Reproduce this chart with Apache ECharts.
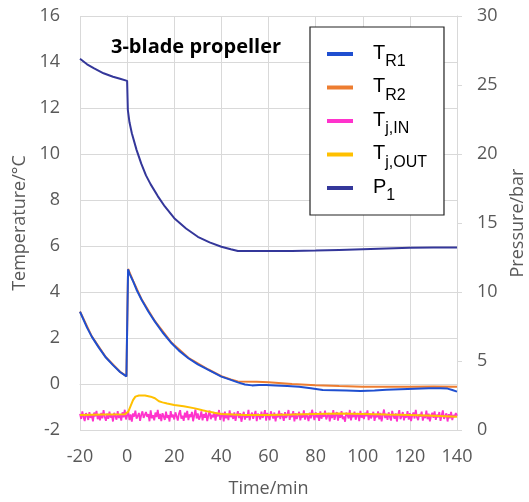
<!DOCTYPE html>
<html><head><meta charset="utf-8">
<script src="https://cdn.jsdelivr.net/npm/echarts@6/dist/echarts.min.js"></script>
<style>html,body{margin:0;padding:0;background:#fff}#c{width:529px;height:502px}</style>
</head><body><div id="c"></div>
<script>
const titleText = '3-blade propeller';
const xTicks = {min: -20, max: 140, interval: 20};
const yLeft = {min: -2, max: 16, interval: 2};
const yRight = {min: 0, max: 30, interval: 5};

const seriesNames = ['TR1', 'TR2', 'TjIN', 'TjOUT', 'P1'];

// TR1 (°C)
const tr1 = [[-20,3.14],[-17,2.45],[-15,2.06],[-12,1.58],[-9,1.15],[-6,0.82],[-3,0.52],[-0.3,0.33],[0.4,4.99],[1,4.8],[2.6,4.45],[4,4.1],[6.2,3.65],[9,3.15],[11.8,2.71],[15,2.25],[18.9,1.77],[22,1.45],[26,1.12],[30,0.85],[34.5,0.61],[40,0.32],[44,0.18],[47,0.07],[50,-0.02],[53,-0.06],[56,-0.04],[59,-0.04],[63,-0.06],[68,-0.09],[73,-0.12],[78,-0.18],[83,-0.26],[88,-0.27],[93,-0.28],[99,-0.3],[105,-0.28],[110,-0.25],[116,-0.23],[122,-0.21],[128,-0.19],[133,-0.18],[136,-0.2],[138,-0.26],[140,-0.33]];
// TR2 (°C)
const tr2 = [[-20,3.15],[-15,2.07],[-9,1.16],[-3,0.53],[-0.3,0.34],[0.4,5.0],[2.6,4.47],[6.2,3.67],[11.8,2.73],[18.9,1.79],[26,1.14],[34.5,0.63],[40,0.34],[44,0.2],[47,0.11],[55,0.1],[60,0.08],[70,0.0],[80,-0.05],[90,-0.09],[100,-0.12],[110,-0.12],[120,-0.12],[130,-0.11],[140,-0.12]];
// Tj,IN (°C), one reading every half minute from -20 min
const tjInStart = -20;
const tjInStep = 0.5;
const tjIn = [
-1.30,-1.52,-1.19,-1.44,-1.61,-1.27,-1.38,-1.56,-1.22,-1.47,
-1.35,-1.62,-1.24,-1.41,-1.17,-1.53,-1.31,-1.58,-1.26,-1.49,
-1.14,-1.43,-1.60,-1.29,-1.51,-1.20,-1.46,-1.36,-1.63,-1.25,
-1.40,-1.55,-1.18,-1.48,-1.33,-1.59,-1.23,-1.45,-1.12,-1.54,
-1.37,-1.21,-1.57,-1.32,-1.64,-1.28,-1.42,-1.16,-1.50,-1.39,
-1.26,-1.60,-1.34,-1.19,-1.47,-1.55,-1.22,-1.43,-1.31,-1.62,
-1.15,-1.49,-1.36,-1.58,-1.24,-1.44,-1.13,-1.52,-1.30,-1.61,
-1.27,-1.41,-1.56,-1.20,-1.48,-1.35,-1.63,-1.18,-1.45,-1.33,
-1.54,-1.23,-1.40,-1.59,-1.29,-1.14,-1.51,-1.38,-1.60,-1.25,
-1.46,-1.17,-1.57,-1.32,-1.44,-1.21,-1.62,-1.36,-1.11,-1.50,
-1.28,-1.55,-1.42,-1.19,-1.58,-1.31,-1.47,-1.24,-1.61,-1.37,
-1.16,-1.53,-1.34,-1.45,-1.22,-1.59,-1.29,-1.41,-1.13,-1.56,
-1.38,-1.26,-1.63,-1.20,-1.49,-1.33,-1.57,-1.15,-1.44,-1.30,
-1.52,-1.23,-1.60,-1.36,-1.18,-1.48,-1.27,-1.64,-1.40,-1.21,
-1.55,-1.32,-1.46,-1.12,-1.58,-1.35,-1.25,-1.51,-1.43,-1.17,
-1.61,-1.29,-1.39,-1.54,-1.20,-1.47,-1.34,-1.14,-1.59,-1.26,
-1.42,-1.57,-1.19,-1.37,-1.50,-1.24,-1.62,-1.31,-1.45,-1.16,
-1.53,-1.28,-1.40,-1.60,-1.22,-1.48,-1.35,-1.13,-1.56,-1.30,
-1.44,-1.18,-1.63,-1.27,-1.52,-1.38,-1.21,-1.58,-1.33,-1.46,
-1.15,-1.55,-1.29,-1.42,-1.61,-1.25,-1.49,-1.12,-1.37,-1.57,
-1.23,-1.45,-1.34,-1.60,-1.19,-1.51,-1.30,-1.43,-1.16,-1.54,
-1.39,-1.26,-1.62,-1.32,-1.48,-1.14,-1.56,-1.36,-1.22,-1.59,
-1.28,-1.47,-1.18,-1.53,-1.41,-1.64,-1.24,-1.35,-1.50,-1.13,
-1.58,-1.31,-1.44,-1.20,-1.55,-1.37,-1.27,-1.61,-1.17,-1.46,
-1.33,-1.52,-1.25,-1.40,-1.15,-1.57,-1.29,-1.49,-1.38,-1.21,
-1.60,-1.34,-1.45,-1.19,-1.54,-1.26,-1.62,-1.36,-1.11,-1.48,
-1.30,-1.56,-1.23,-1.43,-1.59,-1.17,-1.39,-1.51,-1.28,-1.63,
-1.35,-1.14,-1.53,-1.41,-1.22,-1.58,-1.32,-1.46,-1.18,-1.55,
-1.27,-1.61,-1.37,-1.24,-1.50,-1.13,-1.44,-1.57,-1.31,-1.42,
-1.20,-1.59,-1.34,-1.48,-1.16,-1.53,-1.29,-1.62,-1.38,-1.25,
-1.47,-1.19,-1.56,-1.33,-1.45,-1.22,-1.60,-1.36,-1.15,-1.52,
-1.40,-1.28,-1.63,-1.31,-1.49,-1.21,-1.57,-1.35,-1.44,-1.26,
-1.38];
// Tj,OUT (°C)
const tjOut = [[-20,-1.35],[-10,-1.33],[-1,-1.32],[0.5,-1.2],[1.5,-0.95],[2.5,-0.7],[3.5,-0.55],[5,-0.5],[7.6,-0.5],[10,-0.55],[11.8,-0.62],[13.5,-0.75],[15,-0.8],[17,-0.85],[20,-0.91],[24,-0.97],[28.8,-1.06],[32,-1.14],[34.5,-1.2],[37,-1.25],[40,-1.3],[45,-1.33],[50,-1.35],[60,-1.35],[70,-1.33],[80,-1.3],[90,-1.28],[100,-1.3],[110,-1.33],[120,-1.35],[130,-1.38],[140,-1.42]];
// P1 (bar)
const p1 = [[-20,26.9],[-17,26.5],[-14,26.2],[-10,25.85],[-6,25.6],[-3,25.45],[0,25.3],[0.3,23.2],[1,22.3],[2,21.5],[4,20.3],[6,19.3],[8,18.45],[10,17.8],[13,16.95],[16,16.2],[20,15.35],[25,14.6],[30,14.0],[35,13.6],[40,13.28],[44,13.1],[47,12.97],[60,12.97],[70,12.97],[80,13.0],[90,13.05],[100,13.1],[110,13.15],[120,13.2],[130,13.22],[140,13.23]];

const tjInData = tjIn.map((v, i) => [tjInStart + i * tjInStep, v]);

const gridC = '#d9d9d9';
const labC = '#595959';
const font = 'Open Sans';

const legendFmt = {
  TR1: '{a|T}{b|R1}', TR2: '{a|T}{b|R2}', TjIN: '{a|T}{b|j,IN}', TjOUT: '{a|T}{b|j,OUT}', P1: '{a|P}{b|1}'
};

const chart = echarts.init(document.getElementById('c'), null, {renderer: 'canvas'});
chart.setOption({
  animation: false,
  backgroundColor: '#fff',
  title: {text: titleText, left: 106, top: 32, textStyle: {fontFamily: font, fontWeight: 'bold', fontSize: 20, color: '#000'}},
  grid: {left: 80, right: 72, top: 16, bottom: 72, containLabel: false, outerBoundsMode: 'none'},
  legend: {
    orient: 'vertical', left: 310, top: 27, padding: [16, 17, 11, 17], itemGap: 6.5,
    itemWidth: 26, itemHeight: 4, icon: 'rect',
    backgroundColor: '#fff', borderColor: '#222', borderWidth: 1.2, borderRadius: 0,
    data: seriesNames,
    formatter: n => legendFmt[n],
    textStyle: {
      fontFamily: 'Liberation Sans', color: '#000',
      rich: {
        a: {fontFamily: 'Liberation Sans', fontSize: 20, lineHeight: 22, verticalAlign: 'top', padding: [0, 0, 0, 15], color: '#000'},
        b: {fontFamily: 'Liberation Sans', fontSize: 16, lineHeight: 18, verticalAlign: 'top', padding: [11, 0, 0, 0], color: '#000'}
      }
    }
  },
  xAxis: {
    type: 'value', min: xTicks.min, max: xTicks.max, interval: xTicks.interval,
    name: 'Time/min', nameLocation: 'middle', nameGap: 50,
    nameTextStyle: {fontFamily: font, fontSize: 18, color: labC},
    axisLine: {show: true, lineStyle: {color: gridC}},
    axisTick: {show: true, length: 6, lineStyle: {color: gridC}},
    splitLine: {show: true, lineStyle: {color: gridC}},
    axisLabel: {fontFamily: font, fontSize: 18, color: labC, margin: 18}
  },
  yAxis: [{
    type: 'value', min: yLeft.min, max: yLeft.max, interval: yLeft.interval,
    name: 'Temperature/°C', nameLocation: 'middle', nameGap: 48, nameRotate: 90,
    nameTextStyle: {fontFamily: font, fontSize: 18, color: labC},
    axisLine: {show: true, lineStyle: {color: gridC}},
    axisTick: {show: true, length: 7, lineStyle: {color: gridC}},
    splitLine: {show: true, lineStyle: {color: gridC}},
    axisLabel: {fontFamily: font, fontSize: 18, color: labC, margin: 20}
  }, {
    type: 'value', position: 'right', min: yRight.min, max: yRight.max, interval: yRight.interval,
    name: 'Pressure/bar', nameLocation: 'middle', nameGap: 52, nameRotate: 90,
    nameTextStyle: {fontFamily: font, fontSize: 18, color: labC},
    axisLine: {show: true, lineStyle: {color: gridC}},
    axisTick: {show: true, length: 5, lineStyle: {color: gridC}},
    splitLine: {show: false},
    axisLabel: {fontFamily: font, fontSize: 18, color: labC, margin: 20}
  }],
  series: [
    {name: 'TR1', type: 'line', data: tr1, yAxisIndex: 0, showSymbol: false, z: 4, color: '#1f4fd0', lineStyle: {width: 2, color: '#1f4fd0'}},
    {name: 'TR2', type: 'line', data: tr2, yAxisIndex: 0, showSymbol: false, z: 3, color: '#ed7d31', lineStyle: {width: 2, color: '#ed7d31'}},
    {name: 'TjIN', type: 'line', data: tjInData, yAxisIndex: 0, showSymbol: false, z: 3, color: '#ff33cc', lineStyle: {width: 1.8, color: '#ff33cc'}},
    {name: 'TjOUT', type: 'line', data: tjOut, yAxisIndex: 0, showSymbol: false, z: 5, color: '#ffc000', lineStyle: {width: 2, color: '#ffc000'}},
    {name: 'P1', type: 'line', data: p1, yAxisIndex: 1, showSymbol: false, z: 5, color: '#34379a', lineStyle: {width: 2, color: '#34379a'}}
  ]
});
</script></body></html>
